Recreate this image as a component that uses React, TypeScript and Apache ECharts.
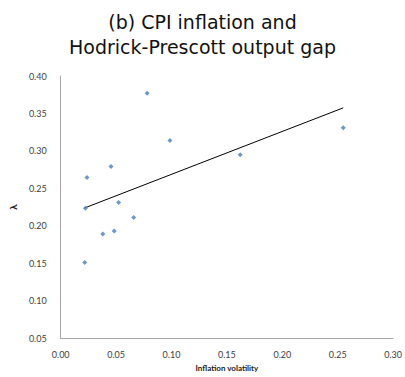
import React, { useEffect, useRef } from "react";
import * as echarts from "echarts";

const titleLines = ["(b) CPI inflation and", "Hodrick-Prescott output gap"];
const xName = "Inflation volatility";
const yName = "λ";

const inflationVolatility = [0.078, 0.0986, 0.0237, 0.0454, 0.0223, 0.0523, 0.0659, 0.038, 0.0483, 0.0217, 0.162, 0.255];
const lambdaValues = [0.377, 0.314, 0.2645, 0.279, 0.2234, 0.231, 0.211, 0.189, 0.193, 0.151, 0.295, 0.331];

function linearTrend(xs: number[], ys: number[]): number[][] {
  const n = xs.length;
  const mx = xs.reduce((a, b) => a + b, 0) / n;
  const my = ys.reduce((a, b) => a + b, 0) / n;
  let sxy = 0, sxx = 0;
  for (let i = 0; i < n; i++) {
    sxy += (xs[i] - mx) * (ys[i] - my);
    sxx += (xs[i] - mx) * (xs[i] - mx);
  }
  const slope = sxy / sxx;
  const icpt = my - slope * mx;
  const x0 = Math.min(...xs);
  const x1 = Math.max(...xs);
  return [[x0, icpt + slope * x0], [x1, icpt + slope * x1]];
}

export default function App() {
  const ref = useRef<HTMLDivElement>(null);
  useEffect(() => {
    if (!ref.current) return;
    const chart = echarts.init(ref.current, undefined, { renderer: "svg" });
    const labelStyle = { color: "#404040", fontSize: 9, fontFamily: "Lato, 'Liberation Sans', sans-serif" };
    chart.setOption({
      animation: false,
      title: {
        text: titleLines.join("\n"),
        left: "center",
        top: 4,
        textStyle: { fontFamily: "'DejaVu Sans', sans-serif", fontWeight: "normal", fontSize: 19, lineHeight: 25, color: "#111" },
      },
      grid: { left: 51, right: 9, top: 76, bottom: 34 },
      xAxis: {
        type: "value",
        min: 0,
        max: 0.3,
        interval: 0.05,
        name: xName,
        nameLocation: "middle",
        nameGap: 24,
        nameTextStyle: { ...labelStyle, fontWeight: "bold", color: "#222", fontSize: 8 },
        axisLine: { show: true, lineStyle: { color: "#a6a6a6", width: 1 } },
        axisTick: { show: false },
        splitLine: { show: false },
        axisLabel: { ...labelStyle, margin: 12, formatter: (v: number) => v.toFixed(2) },
      },
      yAxis: {
        type: "value",
        min: 0.05,
        max: 0.4,
        interval: 0.05,
        name: yName,
        nameLocation: "middle",
        nameGap: 32,
        nameRotate: 90,
        nameTextStyle: { ...labelStyle, fontWeight: "bold", color: "#222", fontSize: 10 },
        axisLine: { show: true, lineStyle: { color: "#a6a6a6", width: 1 } },
        axisTick: { show: false },
        splitLine: { show: false },
        axisLabel: { ...labelStyle, margin: 14, formatter: (v: number) => v.toFixed(2) },
      },
      series: [
        {
          type: "line",
          data: linearTrend(inflationVolatility, lambdaValues),
          showSymbol: false,
          symbol: "none",
          lineStyle: { color: "#000", width: 1 },
          z: 1,
        },
        {
          type: "scatter",
          data: inflationVolatility.map((x, i) => [x, lambdaValues[i]]),
          symbol: "diamond",
          symbolSize: 5,
          itemStyle: { color: "#4a7ebb" },
          z: 2,
        },
      ],
    });
    return () => chart.dispose();
  }, []);
  return <div ref={ref} style={{ width: 405, height: 377, position: "absolute", left: 0, top: 0 }} />;
}
